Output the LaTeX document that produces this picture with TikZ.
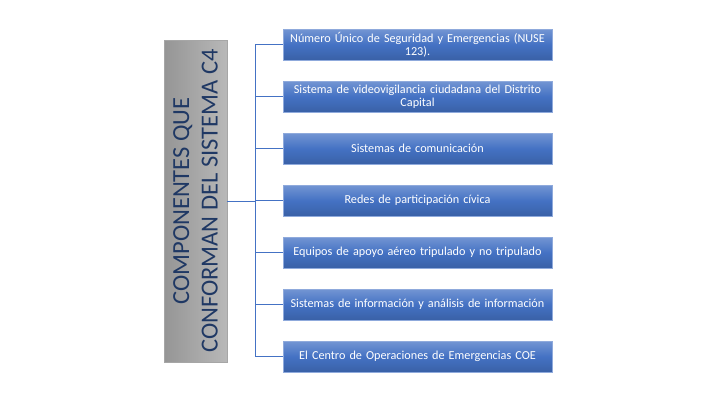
\documentclass[tikz,border=0pt]{standalone}
\usepackage{fontspec}
\setmainfont{Carlito}
\usetikzlibrary{positioning,shadows}
\definecolor{compblue}{HTML}{4472C4}
\definecolor{titleblue}{HTML}{1F3864}
\definecolor{titlegray}{HTML}{A6A6A6}

\begin{document}
\begin{tikzpicture}[x=1pt, y=-1pt, node distance=20.6pt, semithick,
  comp/.style={rectangle, minimum height=31pt, text width=267pt, inner xsep=1pt, inner ysep=2pt, align=center, top color=compblue!75!white, bottom color=compblue!85!black, middle color=compblue, draw=compblue!60!white, thin, text=white, font=\fontsize{12.2}{13.5}\selectfont, drop shadow={opacity=0.35, shadow xshift=1pt, shadow yshift=-1.2pt}},
  title/.style={rectangle, rotate=90, minimum width=322pt, minimum height=63pt, inner sep=0pt, align=center, left color=titlegray!90!black, right color=titlegray!80!white, draw=gray!70, thin, text=titleblue, font=\fontsize{24.5}{28.5}\selectfont},
  link/.style={draw=compblue, line width=0.8pt}]
  \useasboundingbox (0,0) rectangle (715,400);
		\node[title] (T) at (195.5,201) {COMPONENTES QUE\\CONFORMAN DEL SISTEMA  C4};
		\node[comp] (nuse) at (417.5,44.5) {Número Único de Seguridad y Emergencias (NUSE\\123).};
		\node[comp] (video) [below = of nuse] {Sistema de videovigilancia ciudadana del Distrito\\Capital};
		\node[comp] (comu) [below = of video] {Sistemas de comunicación};
		\node[comp] (redes) [below = of comu] {Redes de participación cívica};
		\node[comp] (aereo) [below = of redes] {Equipos de apoyo aéreo tripulado y no tripulado};
		\node[comp] (info) [below = of aereo] {Sistemas de información y análisis de información};
		\node[comp] (coe) [below = of info] {El Centro de Operaciones de Emergencias COE};
		\coordinate (trunk) at (255,201);
		\path[link] (T.south) -- (trunk);
		\path[link] (trunk) |- (nuse.west);
		\path[link] (trunk) |- (video.west);
		\path[link] (trunk) |- (comu.west);
		\path[link] (trunk) |- (redes.west);
		\path[link] (trunk) |- (aereo.west);
		\path[link] (trunk) |- (info.west);
		\path[link] (trunk) |- (coe.west);
	\end{tikzpicture}
\end{document}
